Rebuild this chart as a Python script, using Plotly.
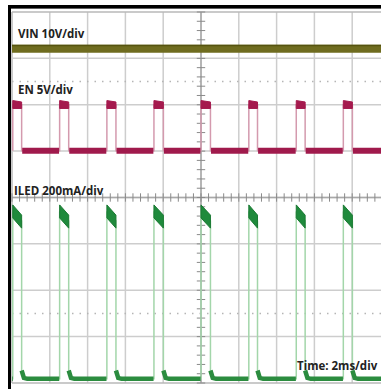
import numpy as np
import plotly.graph_objects as go

# ---- data (time in ms, 2 ms/div; vertical in screen divisions) ----
en_rise_ms = [0.04, 2.52, 5.02, 7.51, 10.0, 12.53, 15.04, 17.53]
en_fall_ms = [0.51, 3.0, 5.5, 8.01, 10.5, 12.99, 15.51, 18.01]
x_end_ms = 19.52
vin_level = 7.21
en_low = 5.01
en_high = 6.0
iled_low = 0.09
iled_peak_start = 3.70
iled_peak_end = 3.50
iled_tail_dt = [0.0, 0.05, 0.12, 0.3]
iled_tail_val = [0.27, 0.17, 0.11, 0.09]

labels = ["VIN 10V/div", "EN 5V/div", "ILED 200mA/div", "Time: 2ms/div"]

W, H = 381, 389
PX_PER_MS = 18.9
PX_PER_DIV = 46.375
GRID_LEFT_PX, GRID_TOP_PX = 12, 12
x_lo = -GRID_LEFT_PX / PX_PER_MS
x_hi = x_lo + W / PX_PER_MS
y_hi = 8 + GRID_TOP_PX / PX_PER_DIV
y_lo = y_hi - H / PX_PER_DIV

def xpx(px):
    return (px - GRID_LEFT_PX) / PX_PER_MS

def ypx(py):
    return 8 - (py - GRID_TOP_PX) / PX_PER_DIV

fig = go.Figure()

# ---- graticule ----
grid_col = "#cdcdcd"
shapes = []
for gx in range(0, 20, 2):
    shapes.append(dict(type="line", xref="x", yref="y", x0=gx, x1=gx, y0=0, y1=8,
                       line=dict(color=grid_col if gx else "#b8b8b8", width=1.5), layer="below"))
for gy in range(0, 9):
    shapes.append(dict(type="line", xref="x", yref="y", x0=0, x1=x_hi + 1, y0=gy, y1=gy,
                       line=dict(color="#b8b8b8" if gy in (0, 8) else grid_col, width=1.5),
                       layer="below"))
for yv in [1.5, 6.5]:
    shapes.append(dict(type="line", xref="x", yref="y", x0=0, x1=x_hi + 1, y0=yv, y1=yv,
                       line=dict(color="#b5b5b5", width=1.5, dash="1.5px,6px"), layer="below"))
shapes.append(dict(type="line", xref="x", yref="y", x0=10, x1=10, y0=0, y1=8,
                   line=dict(color="#a8a8a8", width=1.5), layer="below"))
shapes.append(dict(type="line", xref="x", yref="y", x0=0, x1=x_hi + 1, y0=4, y1=4,
                   line=dict(color="#a8a8a8", width=1.5), layer="below"))
# black frame as layout shapes too
shapes.append(dict(type="rect", xref="paper", yref="paper", x0=8 / W, x1=11 / W,
                   y0=-0.01, y1=1 - 5 / H, fillcolor="black", line=dict(width=0), layer="above"))
shapes.append(dict(type="rect", xref="paper", yref="paper", x0=8 / W, x1=1.01,
                   y0=1 - 8.5 / H, y1=1 - 5 / H, fillcolor="black", line=dict(width=0), layer="above"))

# black frame (left & top) as a polyline trace
fig.add_trace(go.Scatter(x=[xpx(9.5), xpx(9.5), x_hi + 1], y=[y_lo - 1, ypx(6.8), ypx(6.8)],
                         mode="lines", line=dict(color="#111111", width=3),
                         hoverinfo="skip", showlegend=False))

tick_y = np.arange(0, 8.001, 0.2)
fig.add_trace(go.Scatter(x=[10] * len(tick_y), y=tick_y, mode="markers",
                         marker=dict(symbol="line-ew", size=6, line=dict(color="#8a8a8a", width=1)),
                         hoverinfo="skip", showlegend=False))
tick_x = np.arange(0, x_hi, 0.4)
fig.add_trace(go.Scatter(x=tick_x, y=[4] * len(tick_x), mode="markers",
                         marker=dict(symbol="line-ns", size=6, line=dict(color="#8a8a8a", width=1)),
                         hoverinfo="skip", showlegend=False))

# ---- VIN ----
fig.add_trace(go.Scatter(x=[0, x_hi + 1], y=[vin_level, vin_level], mode="lines",
                         line=dict(color="#6f6c1f", width=8), hoverinfo="skip", showlegend=False))
fig.add_trace(go.Scatter(x=[0, x_hi + 1], y=[vin_level + 0.07, vin_level + 0.07], mode="lines",
                         line=dict(color="#55530f", width=1.5), hoverinfo="skip", showlegend=False))

# ---- EN ----
nexts = en_rise_ms[1:] + [x_hi + 1]
ex, ey = [], []
for r, f in zip(en_rise_ms, en_fall_ms):
    ex += [r, r, f, f]
    ey += [en_low, en_high, en_high, en_low]
ex.append(x_hi + 1); ey.append(en_low)
fig.add_trace(go.Scatter(x=ex, y=ey, mode="lines", line=dict(color="#d49aae", width=1.5),
                         hoverinfo="skip", showlegend=False))
lx, ly = [], []
for f, n in zip(en_fall_ms, nexts):
    lx += [f + 0.03, n - 0.03, None]
    ly += [en_low, en_low, None]
fig.add_trace(go.Scatter(x=lx, y=ly, mode="lines", line=dict(color="#a01a4c", width=6),
                         hoverinfo="skip", showlegend=False))
hx, hy = [], []
for r, f in zip(en_rise_ms, en_fall_ms):
    hx += [r, f, f, r, r, None]
    hy += [en_high + 0.09, en_high + 0.06, en_high - 0.08, en_high - 0.08, en_high + 0.09, None]
fig.add_trace(go.Scatter(x=hx, y=hy, mode="lines", fill="toself", fillcolor="#a51a4e",
                         line=dict(color="#a51a4e", width=1), hoverinfo="skip", showlegend=False))

# ---- ILED ----
ix, iy = [0], [iled_low]
for r, f, n in zip(en_rise_ms, en_fall_ms, nexts):
    ix += [r, r, f] + [f + d for d in iled_tail_dt] + [n]
    iy += [iled_low, iled_peak_start, iled_peak_end] + list(iled_tail_val) + [iled_low]
fig.add_trace(go.Scatter(x=ix, y=iy, mode="lines", line=dict(color="#a3d6aa", width=1.5),
                         hoverinfo="skip", showlegend=False))
bx, by = [0, en_rise_ms[0], None], [iled_low, iled_low, None]
for f, n in zip(en_fall_ms, nexts):
    bx += [f + d for d in iled_tail_dt] + [n - 0.02, None]
    by += list(iled_tail_val) + [iled_low, None]
fig.add_trace(go.Scatter(x=bx, y=by, mode="lines", line=dict(color="#2b8c3f", width=4.5),
                         hoverinfo="skip", showlegend=False))
px_, py_ = [], []
for r, f in zip(en_rise_ms, en_fall_ms):
    px_ += [r, f, f, r, r, None]
    py_ += [iled_peak_start + 0.14, iled_peak_end + 0.12, iled_peak_end - 0.16,
            iled_peak_start - 0.14, iled_peak_start + 0.14, None]
fig.add_trace(go.Scatter(x=px_, y=py_, mode="lines", fill="toself", fillcolor="#1f8a3c",
                         line=dict(color="#1a7a33", width=1), hoverinfo="skip", showlegend=False))

# ---- labels ----
font = dict(family="Open Sans, Liberation Sans, Arial, sans-serif", size=11.5, color="#222222")
ann = [
    dict(x=xpx(16), y=ypx(33.5), text="<b>%s</b>" % labels[0], xanchor="left"),
    dict(x=xpx(16), y=ypx(89), text="<b>%s</b>" % labels[1], xanchor="left"),
    dict(x=xpx(12), y=ypx(190.5), text="<b>%s</b>" % labels[2], xanchor="left"),
    dict(x=xpx(380), y=ypx(365), text="<b>%s</b>" % labels[3], xanchor="right"),
]
for a in ann:
    a.update(xref="x", yref="y", showarrow=False, yanchor="middle", font=font)

fig.update_layout(
    width=W, height=H,
    margin=dict(l=0, r=0, t=0, b=0),
    paper_bgcolor="white", plot_bgcolor="white",
    shapes=shapes, annotations=ann, showlegend=False,
    xaxis=dict(range=[x_lo, x_hi], showgrid=False, showticklabels=False, ticks="",
               zeroline=False, showline=False, fixedrange=True),
    yaxis=dict(range=[y_lo, y_hi], showgrid=False, showticklabels=False, ticks="",
               zeroline=False, showline=False, fixedrange=True),
)

fig.write_html("out.html", config={"displayModeBar": False},
               post_script="document.body.style.margin='0';document.body.style.overflow='hidden';")
